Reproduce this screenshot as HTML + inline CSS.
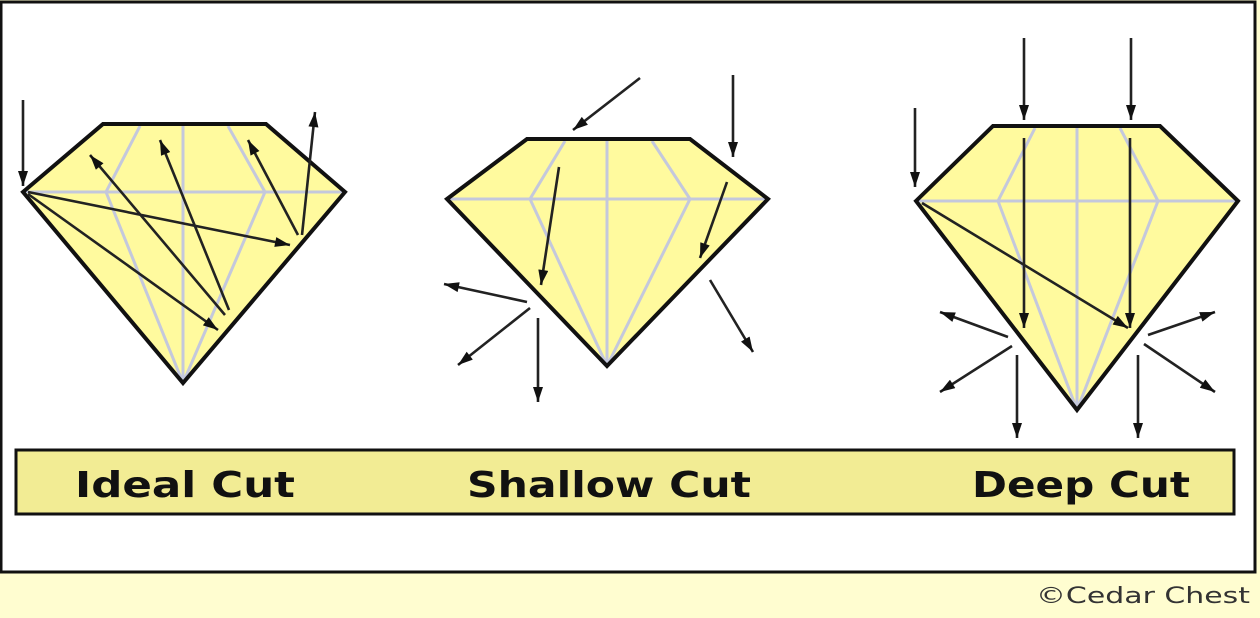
<!DOCTYPE html>
<html><head><meta charset="utf-8"><style>
html,body{margin:0;padding:0;background:#fffdd0;}
svg{display:block;}
</style></head><body>
<svg width="1260" height="618" viewBox="0 0 1260 618" xmlns="http://www.w3.org/2000/svg">
<defs>
<marker id="h" viewBox="0 0 12 8" refX="12" refY="4" markerWidth="16" markerHeight="10" orient="auto" markerUnits="userSpaceOnUse">
<path d="M0,0 L12,4 L0,8 z" fill="#111"/>
</marker>
</defs>
<rect x="0" y="0" width="1260" height="618" fill="#fffdd0"/>
<rect x="1" y="2" width="1254" height="570" fill="#fff" stroke="#111" stroke-width="3"/>
<!-- Ideal -->
<g>
<polygon points="23,192 103,124 266,124 345,192 183,383" fill="#fffa9e"/>
<g stroke="#c4c8dc" stroke-width="3" fill="none">
<line x1="23" y1="192" x2="345" y2="192"/>
<line x1="183" y1="124" x2="183" y2="383"/>
<polyline points="140,126 106,192 183,383"/>
<polyline points="228,126 265,192 183,383"/>
</g>
<polygon points="23,192 103,124 266,124 345,192 183,383" fill="none" stroke="#111" stroke-width="4"/>
<g stroke="#222" stroke-width="2.6" marker-end="url(#h)">
<line x1="23" y1="100" x2="23" y2="186"/>
<line x1="28" y1="192" x2="290" y2="245"/>
<line x1="28" y1="194" x2="218" y2="330"/>
<line x1="225" y1="315" x2="90" y2="155"/>
<line x1="229" y1="310" x2="160" y2="140"/>
<line x1="298" y1="235" x2="248" y2="140"/>
<line x1="302" y1="235" x2="315" y2="112"/>
</g>
</g>
<!-- Shallow -->
<g>
<polygon points="447,199 527,139 690,139 768,199 607,366" fill="#fffa9e"/>
<g stroke="#c4c8dc" stroke-width="3" fill="none">
<line x1="447" y1="199" x2="768" y2="199"/>
<line x1="607" y1="139" x2="607" y2="366"/>
<polyline points="565,141 530,199 607,366"/>
<polyline points="652,141 690,199 607,366"/>
</g>
<polygon points="447,199 527,139 690,139 768,199 607,366" fill="none" stroke="#111" stroke-width="4"/>
<g stroke="#222" stroke-width="2.6" marker-end="url(#h)">
<line x1="640" y1="78" x2="573" y2="130"/>
<line x1="733" y1="75" x2="733" y2="157"/>
<line x1="559" y1="167" x2="541" y2="285"/>
<line x1="727" y1="182" x2="700" y2="258"/>
<line x1="527" y1="302" x2="444" y2="284"/>
<line x1="530" y1="308" x2="458" y2="365"/>
<line x1="538" y1="318" x2="538" y2="402"/>
<line x1="710" y1="280" x2="753" y2="352"/>
</g>
</g>
<!-- Deep -->
<g>
<polygon points="916,201 993,126 1160,126 1238,201 1077,410" fill="#fffa9e"/>
<g stroke="#c4c8dc" stroke-width="3" fill="none">
<line x1="916" y1="201" x2="1238" y2="201"/>
<line x1="1077" y1="126" x2="1077" y2="410"/>
<polyline points="1035,128 998,201 1077,410"/>
<polyline points="1120,128 1158,201 1077,410"/>
</g>
<polygon points="916,201 993,126 1160,126 1238,201 1077,410" fill="none" stroke="#111" stroke-width="4"/>
<g stroke="#222" stroke-width="2.6" marker-end="url(#h)">
<line x1="915" y1="108" x2="915" y2="187"/>
<line x1="1024" y1="38" x2="1024" y2="120"/>
<line x1="1131" y1="38" x2="1131" y2="120"/>
<line x1="1024" y1="138" x2="1024" y2="328"/>
<line x1="1130" y1="138" x2="1130" y2="328"/>
<line x1="922" y1="203" x2="1128" y2="328"/>
<line x1="1008" y1="337" x2="940" y2="312"/>
<line x1="1012" y1="346" x2="940" y2="392"/>
<line x1="1017" y1="355" x2="1017" y2="438"/>
<line x1="1148" y1="335" x2="1215" y2="312"/>
<line x1="1144" y1="344" x2="1215" y2="392"/>
<line x1="1138" y1="355" x2="1138" y2="438"/>
</g>
</g>
<!-- label bar -->
<rect x="16" y="450" width="1218" height="64" fill="#f2ec94" stroke="#111" stroke-width="3"/>
<g font-family="DejaVu Sans, Liberation Sans, sans-serif" font-weight="bold" font-size="36" fill="#111">
<text x="75" y="497" textLength="220" lengthAdjust="spacingAndGlyphs">Ideal Cut</text>
<text x="467" y="497" textLength="284" lengthAdjust="spacingAndGlyphs">Shallow Cut</text>
<text x="972" y="497" textLength="218" lengthAdjust="spacingAndGlyphs">Deep Cut</text>
</g>
<text x="1036" y="603" font-family="DejaVu Sans, Liberation Sans, sans-serif" font-size="22" fill="#333" textLength="214" lengthAdjust="spacingAndGlyphs">©Cedar Chest</text>
</svg>
</body></html>
